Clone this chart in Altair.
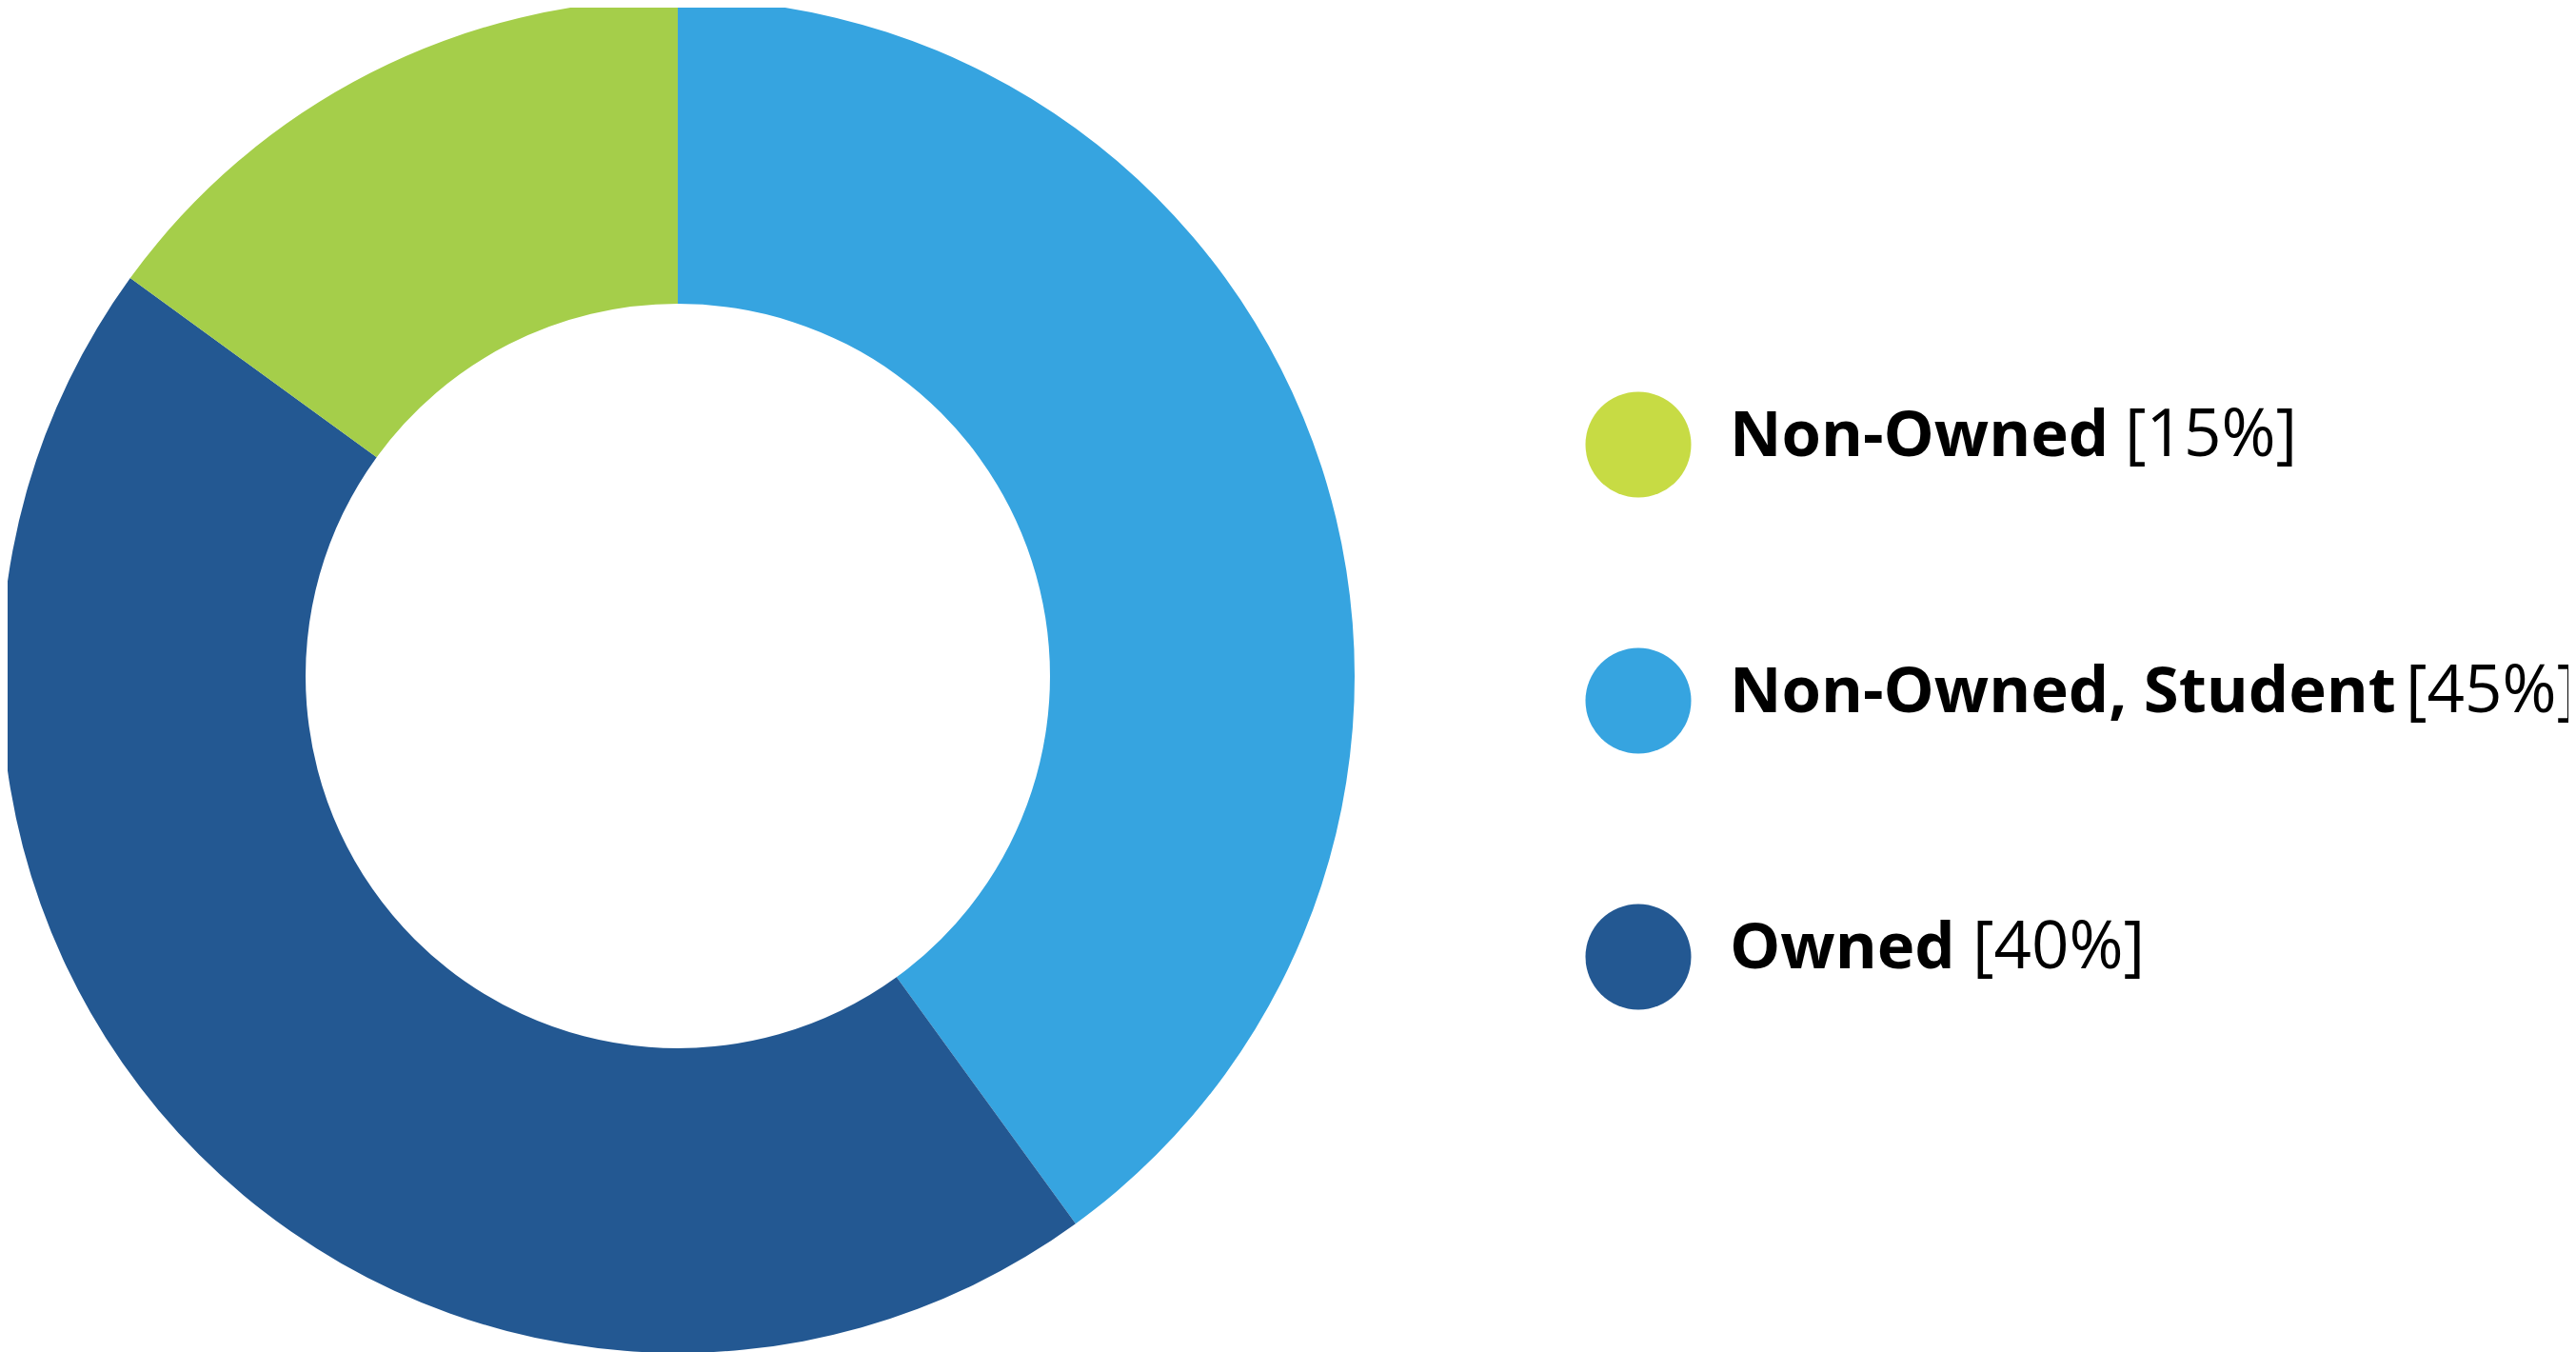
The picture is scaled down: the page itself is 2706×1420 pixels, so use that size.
import altair as alt
import pandas as pd

# ---- data ----
# donut slices, clockwise from 12 o'clock (angles)
slice_names = ["Non-Owned, Student", "Owned", "Non-Owned"]
slice_values = [40, 45, 15]
slice_colors = ["#36A4E0", "#235892", "#A5CE4A"]

# legend entries as printed
legend_names = ["Non-Owned", "Non-Owned, Student", "Owned"]
legend_pcts = ["[15%]", "[45%]", "[40%]"]
legend_colors = ["#C7DB44", "#36A4E0", "#235892"]

# ---- layout constants (pixels, chart coordinates) ----
W, H = 2690, 1412
CX, CY = 704, 702
R_OUT, R_IN = 711, 391
DOT_X = 1713
DOT_D = 111
ROW_Y = [459, 997]
NAME_X = 1809
PCT_X = [2224, 2519, 2064]
FONT = "Open Sans"
FS_NAME = 67
FS_PCT = 69

slices = pd.DataFrame({"name": slice_names, "value": slice_values,
                       "order": list(range(len(slice_names)))})
legend = pd.DataFrame({"name": legend_names, "pct": legend_pcts,
                       "px": PCT_X})

donut = alt.Chart(slices).mark_arc(
    innerRadius=R_IN, outerRadius=R_OUT
).encode(
    theta=alt.Theta("value:Q", stack=True),
    order=alt.Order("order:Q"),
    color=alt.Color("name:N", scale=alt.Scale(domain=slice_names, range=slice_colors), legend=None),
    x=alt.value(CX),
    y=alt.value(CY),
)

yenc = alt.Y("name:N", scale=alt.Scale(type="point", domain=legend_names, range=ROW_Y, padding=0), axis=None)

dots = alt.Chart(legend).mark_point(
    filled=True, shape="circle", size=DOT_D ** 2, opacity=1, strokeWidth=0
).encode(
    x=alt.value(DOT_X),
    y=yenc,
    fill=alt.Fill("name:N", scale=alt.Scale(domain=legend_names, range=legend_colors), legend=None),
)

names = alt.Chart(legend).mark_text(
    align="left", baseline="alphabetic", dy=12, font=FONT, fontSize=FS_NAME,
    fontWeight="bold", color="#000000"
).encode(
    x=alt.value(NAME_X),
    y=yenc,
    text="name:N",
)

pcts = alt.Chart(legend).mark_text(
    align="left", baseline="alphabetic", dy=12, font=FONT, fontSize=FS_PCT,
    fontWeight="normal", color="#000000"
).encode(
    x=alt.X("px:Q", scale=None, axis=None),
    y=yenc,
    text="pct:N",
)

chart = alt.layer(donut, dots, names, pcts).resolve_scale(
    color="independent", fill="independent"
).properties(
    width=W, height=H, padding=0, autosize=alt.AutoSizeParams(type="none"),
    background="#ffffff"
).configure_view(stroke=None)

chart.save("out.html", embed_options={"renderer": "svg", "actions": False})
